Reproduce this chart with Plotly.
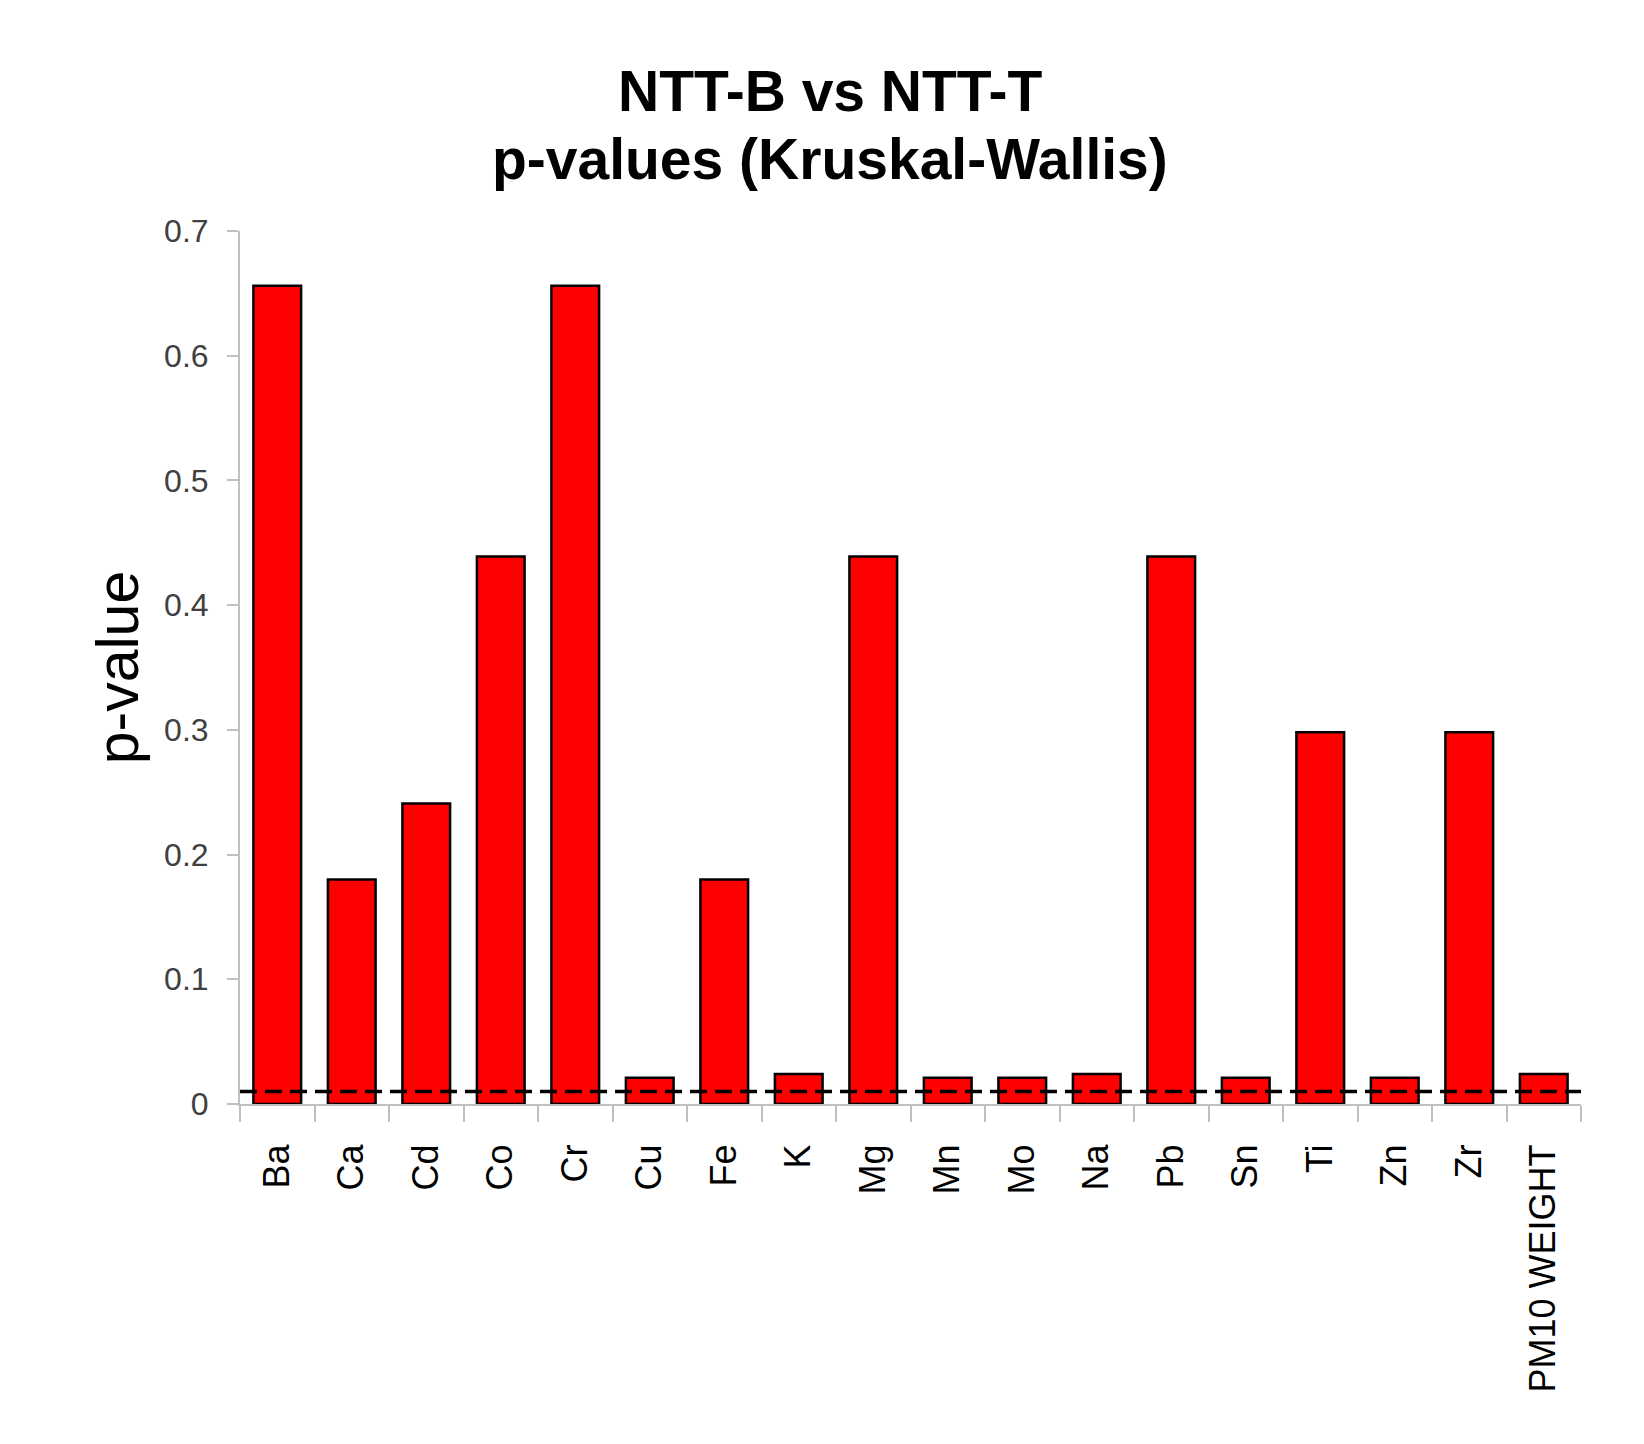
import plotly.graph_objects as go

categories = ["Ba", "Ca", "Cd", "Co", "Cr", "Cu", "Fe", "K", "Mg", "Mn",
              "Mo", "Na", "Pb", "Sn", "Ti", "Zn", "Zr", "PM10 WEIGHT"]
p_values = [0.656, 0.180, 0.241, 0.439, 0.656, 0.021, 0.180, 0.024, 0.439, 0.021,
            0.021, 0.024, 0.439, 0.021, 0.298, 0.021, 0.298, 0.024]
threshold = 0.01
y_ticks = [0, 0.1, 0.2, 0.3, 0.4, 0.5, 0.6, 0.7]
y_tick_labels = ["0", "0.1", "0.2", "0.3", "0.4", "0.5", "0.6", "0.7"]
title_lines = ["NTT-B vs NTT-T", "p-values (Kruskal-Wallis)"]

FONT = "Liberation Sans, Arial, sans-serif"
AXIS_GRAY = "#bfbfbf"

fig = go.Figure()
fig.add_trace(go.Bar(
    x=categories, y=p_values,
    marker=dict(color="#ff0000", line=dict(color="#000000", width=2.5)),
    width=0.64,
    showlegend=False,
))

fig.add_shape(type="line", xref="x domain", yref="y",
              x0=0, x1=1, y0=threshold, y1=threshold,
              line=dict(color="#000000", width=3.5, dash="17px,8px"))

for text, ypos in zip(title_lines, [1.160, 1.083]):
    fig.add_annotation(
        text=text, xref="paper", yref="paper", x=0.440, y=ypos,
        xanchor="center", yanchor="middle", showarrow=False,
        font=dict(family=FONT, size=57, color="#000000", weight="bold"),
    )

fig.update_layout(
    width=1644, height=1444,
    margin=dict(l=232, r=71, t=223, b=348),
    paper_bgcolor="white", plot_bgcolor="white",
    font=dict(family=FONT, color="#000000"),
    xaxis=dict(
        type="category",
        showline=True, linecolor=AXIS_GRAY, linewidth=2,
        ticks="outside", tickson="boundaries", ticklen=16,
        tickcolor=AXIS_GRAY, tickwidth=2,
        tickangle=-90, ticklabelstandoff=24,
        tickfont=dict(family=FONT, size=36, color="#000000"),
        showgrid=False, zeroline=False,
    ),
    yaxis=dict(
        range=[0, 0.7],
        tickvals=y_ticks, ticktext=y_tick_labels,
        showline=True, linecolor=AXIS_GRAY, linewidth=2,
        ticks="outside", ticklen=11, tickcolor=AXIS_GRAY, tickwidth=2,
        ticklabelstandoff=12,
        tickfont=dict(family=FONT, size=32, color="#404040"),
        showgrid=False, zeroline=False,
        title=dict(text="p-value", font=dict(family=FONT, size=59, color="#000000"),
                   standoff=6),
    ),
    yaxis2=dict(
        range=[0, 0.7], overlaying="y", anchor="x", side="left",
        tickvals=y_ticks, showticklabels=False,
        ticks="inside", ticklen=11, tickcolor=AXIS_GRAY, tickwidth=2,
        showline=False, showgrid=False, zeroline=False,
    ),
)

fig.write_html("out.html")
